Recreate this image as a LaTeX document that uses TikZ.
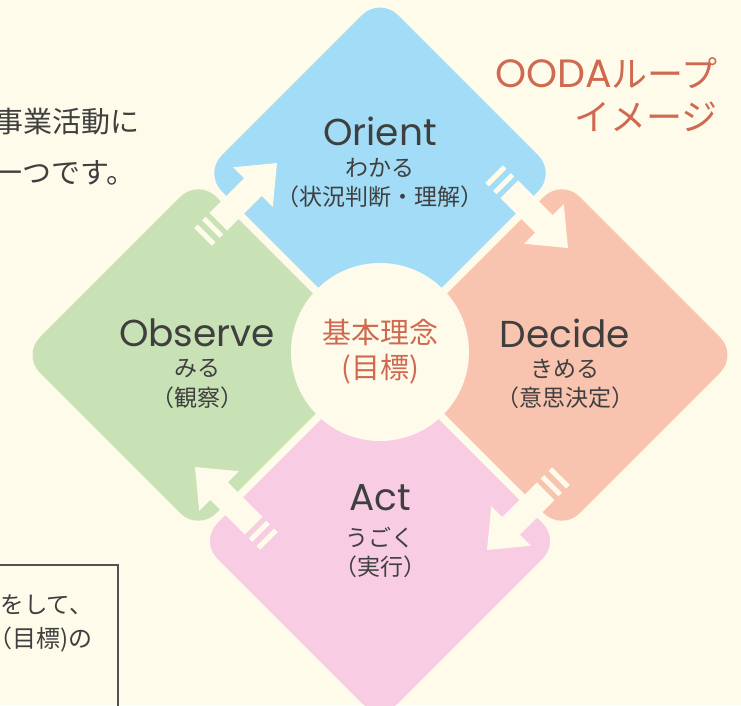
\documentclass[tikz,border=0pt]{standalone}
\usepackage{fontspec}
\setmainfont{Noto Sans CJK JP}
\newfontfamily\lat{Poppins}
\definecolor{bgc}{HTML}{FEFBEA}
\definecolor{cblue}{HTML}{A2DCF6}
\definecolor{csalmon}{HTML}{F9C4AF}
\definecolor{cpink}{HTML}{F8CCE3}
\definecolor{cgreen}{HTML}{C9E2B5}
\definecolor{terra}{HTML}{CF6A50}
\definecolor{ink}{HTML}{3F3F3F}
\tikzset{
  quad/.style={rounded corners=25pt},
  big/.style={text=ink,inner sep=0pt,font=\lat\fontsize{37.5}{40}\selectfont},
  small/.style={text=ink,inner sep=0pt,font=\fontsize{23}{26}\selectfont},
  side/.style={text=ink,inner sep=0pt,anchor=east,font=\fontsize{29}{32}\selectfont},
  boxtxt/.style={text=ink,inner sep=0pt,anchor=east,font=\fontsize{23.5}{28}\selectfont},
  title/.style={text=terra,inner sep=0pt,anchor=east,font=\fontsize{36}{40}\selectfont},
  oarrow/.pic={
    \fill[bgc] (0pt,0pt) -- (-34pt,28pt) -- (-34pt,12.5pt) -- (-83pt,12.5pt)
      -- (-83pt,-12.5pt) -- (-34pt,-12.5pt) -- (-34pt,-28pt) -- cycle;
    \fill[bgc] (-88.5pt,-12.5pt) rectangle (-93.5pt,12.5pt);
    \fill[bgc] (-99.5pt,-12.5pt) rectangle (-104.5pt,12.5pt);
  }
}
\begin{document}
\begin{tikzpicture}[x=1pt,y=-1pt]
\useasboundingbox (0,0) rectangle (741,705);
\clip (0,0) rectangle (741,705);
\fill[bgc] (0,0) rectangle (741,705);
% quadrants
\begin{scope}[shift={(380,355)},rotate=45]
  \fill[cblue,quad] (4pt,4pt) rectangle (253pt,253pt);
\end{scope}
\begin{scope}[shift={(380,355)},rotate=-45]
  \fill[csalmon,quad] (4pt,4pt) rectangle (253pt,253pt);
\end{scope}
\begin{scope}[shift={(380,355)},rotate=-135]
  \fill[cpink,quad] (4pt,4pt) rectangle (259pt,259pt);
\end{scope}
\begin{scope}[shift={(380,355)},rotate=135]
  \fill[cgreen,quad] (4pt,4pt) rectangle (253pt,253pt);
\end{scope}
% arrows
\pic[rotate=45] (arrA) at (277,163) {oarrow};
\pic[rotate=-45] (arrB) at (568,248) {oarrow};
\pic[rotate=-135] (arrC) at (487,550) {oarrow};
\pic[rotate=135] (arrD) at (195,467) {oarrow};
% centre
\node[circle,fill=bgc,minimum size=178pt,inner sep=0pt,text=terra,align=center,
      font=\fontsize{29}{35}\selectfont] (core) at (380,352) {基本理念\\(目標)};
% labels
\node[big] (orient) at (380,131) {Orient};
\node[small] (orientj) at (380,168) {わかる};
\node[small] (orientk) at (380,197) {（状況判断・理解）};
\node[big] (observe) at (197,333) {Observe};
\node[small] (observej) at (197,369) {みる};
\node[small] (observek) at (197,398) {（観察）};
\node[big] (decide) at (565,333) {Decide};
\node[small] (decidej) at (565,369) {きめる};
\node[small] (decidek) at (565,398) {（意思決定）};
\node[big] (act) at (380,498) {Act};
\node[small] (actj) at (380,538) {うごく};
\node[small] (actk) at (380,567) {（実行）};
% title
\node[title] (t1) at (718,73) {{\lat\fontsize{39.5}{40}\selectfont OODA}ループ};
\node[title] (t2) at (718,117) {イメージ};
% cut-off side texts
\node[side] (s1) at (140,122) {事業活動に};
\node[side] (s2) at (136,173) {一つです。};
\draw[ink!90,line width=2pt] (-10,565) -- (118,565) -- (118,720);
\node[boxtxt] (b1) at (93,605) {をして、};
\node[boxtxt,font=\fontsize{24}{28}\selectfont] (b2) at (93,640) {（目標)の};
\end{tikzpicture}
\end{document}
